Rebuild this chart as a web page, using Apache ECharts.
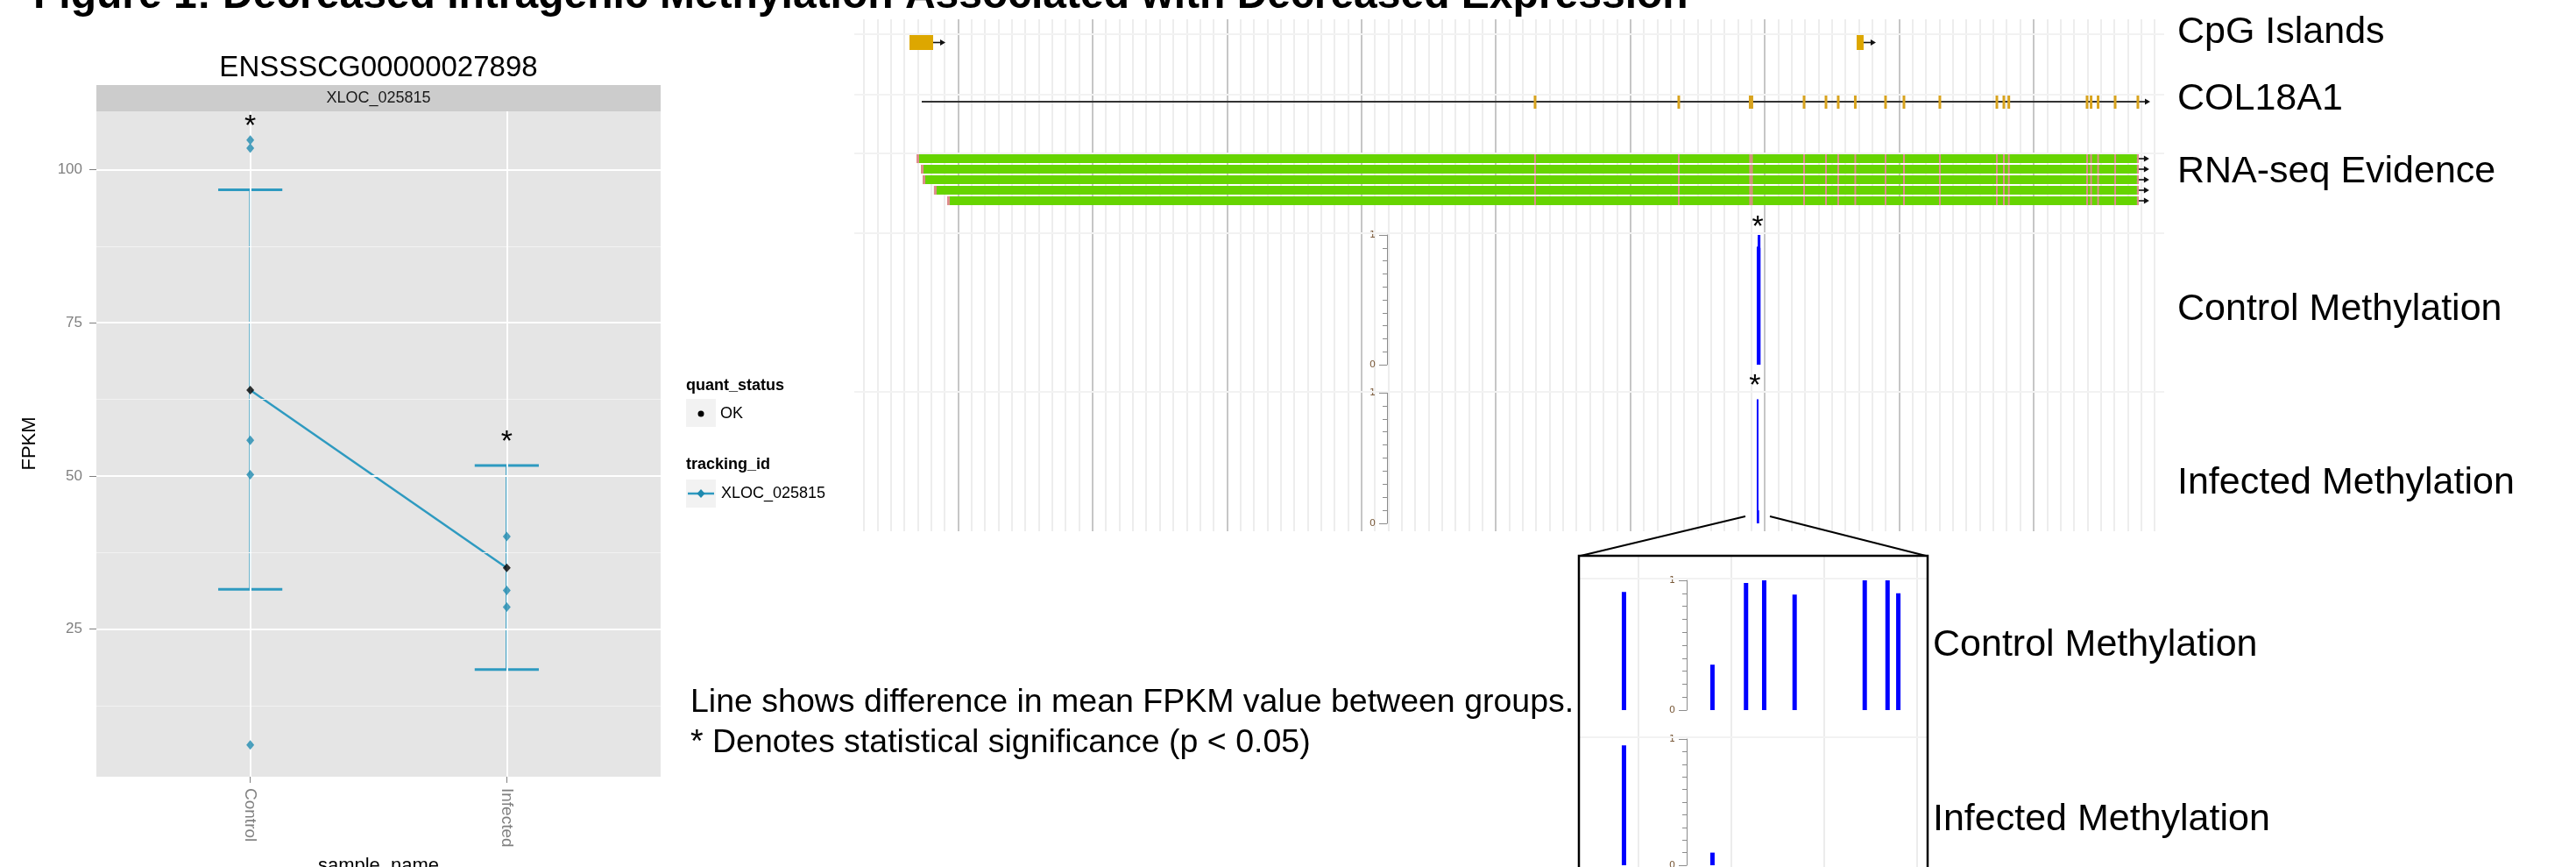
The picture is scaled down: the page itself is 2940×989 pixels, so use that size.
<!DOCTYPE html>
<html><head><meta charset="utf-8">
<script src="https://cdn.jsdelivr.net/npm/echarts@6/dist/echarts.min.js"></script>
<style>html,body{margin:0;padding:0;background:#fff}#c{width:2940px;height:989px}</style>
</head><body><div id="c"></div>
<script>
// ---------------- data ----------------
const sampleNames = ['Control', 'Infected'];
const controlFpkm = [104.8, 103.5, 55.8, 50.2, 6.1];
const infectedFpkm = [40.1, 31.3, 28.6];
const meanFpkm = [64.0, 35.0];
const ciLow = [31.5, 18.4];
const ciHigh = [96.7, 51.7];
const sigMarkY = [107.0, 55.5];
const yTicks = [25, 50, 75, 100];
const yMinorTicks = [12.5, 37.5, 62.5, 87.5];

// genome browser (positions in kb along the locus)
const cpgIslands = [[3.39, 5.15], [73.84, 74.36]];
const geneSpan = [4.30, 94.76];
const exonPos = [49.92, 60.61, 65.92, 66.05, 69.93, 71.56, 72.47, 73.74, 75.99, 77.36, 80.03,
                 84.27, 84.79, 85.16, 90.98, 91.28, 91.80, 93.07, 94.76];
const rnaStarts = [3.91, 4.24, 4.37, 5.21, 6.19];
const rnaEnds = [94.69, 94.69, 94.69, 94.69, 94.69];
const zoomRegionStartKb = 66.45;
const cpgSiteBp = [24.3, 72.0, 90.1, 99.9, 116.3, 154.1, 166.4, 172.2];
const controlMeth = [0.91, 0.35, 0.98, 1.0, 0.89, 1.0, 1.0, 0.90];
const infectedMeth = [0.95, 0.10, 0, 0, 0, 0, 0, 0];
const methStarKb = [66.48, 66.28];
const methStarY = [1.054, 1.047];
const insetGridBp = [32, 82, 132, 182];

// ---------------- style ----------------
const FONT = '"Liberation Sans", Arial, Helvetica, sans-serif';
const TEAL = '#2E9AC0', TEAL_PT = '#1F8AAF';
const BLUE = '#0000FF';
const browserLineColors = [];
for (let i = 0; i < 10; i++) browserLineColors.push(i === 7 ? '#C6C6C6' : '#EDEDED');

const chart = echarts.init(document.getElementById('c'), null, {renderer: 'canvas', width: 2940, height: 989});

function gridRect(left, top, width, height, extra) {
  return Object.assign({left, top, width, height, containLabel: false, outerBoundsMode: 'none', show: false, borderWidth: 0}, extra || {});
}
function hidden(type, grid, min, max, extra) {
  return Object.assign({type, gridIndex: grid, min, max, show: false}, extra || {});
}
function methAxis(grid) {
  return {type: 'value', gridIndex: grid, min: 0, max: 1, interval: 1, position: 'left',
    axisLine: {show: true, lineStyle: {color: '#8C8C8C', width: 1}},
    axisTick: {show: true, length: 9, inside: false, lineStyle: {color: '#8C8C8C'}},
    minorTick: {show: true, splitNumber: 10, length: 5, lineStyle: {color: '#8C8C8C'}},
    axisLabel: {show: true, fontSize: 11, color: '#7A5A3A', margin: 13, fontFamily: 'DejaVu Sans'},
    splitLine: {show: false}, minorSplitLine: {show: false}};
}
function arrowHead(x, y) {
  return [
    {type: 'line', shape: {x1: x, y1: y, x2: x + 10, y2: y}, style: {stroke: '#111', lineWidth: 1.6}},
    {type: 'polygon', shape: {points: [[x + 14, y], [x + 8, y - 3.5], [x + 8, y + 3.5]]}, style: {fill: '#111'}}
  ];
}
function methBars(xi, data, w) {
  return {type: 'custom', xAxisIndex: xi, yAxisIndex: xi, data, z: 5, silent: true, clip: false,
    renderItem(params, api) {
      const b = api.coord([api.value(0), 0]);
      const t = api.coord([api.value(0), api.value(1)]);
      if (b[1] - t[1] < 0.5) return null;
      return {type: 'rect', shape: {x: b[0] - w / 2, y: t[1], width: w, height: b[1] - t[1]}, style: {fill: BLUE}};
    }};
}
function starSeries(xi, data) {
  return {type: 'custom', xAxisIndex: xi, yAxisIndex: xi, data, z: 8, silent: true, clip: false,
    renderItem(params, api) {
      const p = api.coord([api.value(0), api.value(1)]);
      return {type: 'text', x: p[0], y: p[1], style: {text: '*', fontSize: 34, fontFamily: FONT, fill: '#000', align: 'center', verticalAlign: 'middle'}};
    }};
}

const BL = 986, BW = 1473, BMAX = 96;

const option = {
  animation: false,
  backgroundColor: '#ffffff',
  grid: [
    gridRect(110, 127, 644, 759, {show: true, backgroundColor: '#E5E5E5'}), // 0 ggplot panel
    gridRect(BL, 22, BW, 584),   // 1 browser background
    gridRect(BL, 40, BW, 17),    // 2 CpG
    gridRect(BL, 108, BW, 16),   // 3 gene
    gridRect(BL, 175, BW, 60),   // 4 RNA-seq
    gridRect(BL, 268, BW, 148),  // 5 control meth
    gridRect(1583, 268, 20, 148),// 6 control axis
    gridRect(BL, 448, BW, 149),  // 7 infected meth
    gridRect(1583, 448, 20, 149),// 8 infected axis
    gridRect(1802, 634, 398, 360),// 9 inset bg
    gridRect(1802, 662, 398, 148),// 10 inset control
    gridRect(1925, 662, 20, 148), // 11 inset control axis
    gridRect(1802, 843, 398, 144),// 12 inset infected
    gridRect(1925, 843, 20, 144)  // 13 inset infected axis
  ],
  xAxis: [
    {type: 'value', gridIndex: 0, min: 0.4, max: 2.6,
      axisLine: {show: false}, splitLine: {show: false},
      axisTick: {show: true, customValues: [1, 2], length: 7, lineStyle: {color: '#7F7F7F'}},
      axisLabel: {show: true, customValues: [1, 2], rotate: -90, margin: 13, fontSize: 19, color: '#7F7F7F', fontFamily: FONT,
        formatter: v => sampleNames[Math.round(v) - 1]}},
    {type: 'value', gridIndex: 1, min: 0, max: BMAX, interval: 1,
      axisLine: {show: false}, axisTick: {show: false}, axisLabel: {show: false},
      splitLine: {show: true, lineStyle: {color: browserLineColors, width: 2}}},
    hidden('value', 2, 0, BMAX), hidden('value', 3, 0, BMAX), hidden('value', 4, 0, BMAX),
    hidden('value', 5, 0, BMAX), hidden('value', 6, 0, 1), hidden('value', 7, 0, BMAX), hidden('value', 8, 0, 1),
    hidden('value', 9, 0, 188), hidden('value', 10, 0, 188), hidden('value', 11, 0, 1),
    hidden('value', 12, 0, 188), hidden('value', 13, 0, 1)
  ],
  yAxis: [
    {type: 'value', gridIndex: 0, min: 0.9, max: 109.5,
      axisLine: {show: false}, splitLine: {show: false},
      axisTick: {show: true, customValues: yTicks, length: 8, lineStyle: {color: '#7F7F7F'}},
      axisLabel: {show: true, customValues: yTicks, margin: 16, fontSize: 17, color: '#7F7F7F', fontFamily: FONT}},
    hidden('value', 1, 0, 1), hidden('value', 2, 0, 1), hidden('value', 3, 0, 1),
    {type: 'category', gridIndex: 4, data: ['1', '2', '3', '4', '5'], inverse: true, show: false},
    hidden('value', 5, 0, 1), methAxis(6), hidden('value', 7, 0, 1), methAxis(8),
    hidden('value', 9, 0, 1), hidden('value', 10, 0, 1), methAxis(11), hidden('value', 12, 0, 1), methAxis(13)
  ],
  series: [
    // ggplot grid lines
    {type: 'scatter', xAxisIndex: 0, yAxisIndex: 0, data: [], z: 1, silent: true,
      markLine: {silent: true, symbol: ['none', 'none'], label: {show: false}, animation: false,
        data: [
          ...yMinorTicks.map(v => ({yAxis: v, lineStyle: {color: '#F2F2F2', width: 1, type: 'solid'}})),
          ...yTicks.map(v => ({yAxis: v, lineStyle: {color: '#FFFFFF', width: 1.8, type: 'solid'}})),
          ...[1, 2].map(v => ({xAxis: v, lineStyle: {color: '#FFFFFF', width: 1.8, type: 'solid'}}))
        ]}},
    // error bars
    {type: 'custom', xAxisIndex: 0, yAxisIndex: 0, z: 3, silent: true,
      data: sampleNames.map((n, i) => [i + 1, ciLow[i], ciHigh[i]]),
      renderItem(params, api) {
        const x = api.value(0), lo = api.value(1), hi = api.value(2);
        const pLo = api.coord([x, lo]), pHi = api.coord([x, hi]);
        const cl = api.coord([x - 0.125, hi])[0], cr = api.coord([x + 0.125, hi])[0];
        return {type: 'group', children: [
          {type: 'line', shape: {x1: pLo[0], y1: pLo[1], x2: pHi[0], y2: pHi[1]}, style: {stroke: TEAL, lineWidth: 2.5}},
          {type: 'line', shape: {x1: cl, y1: pHi[1], x2: cr, y2: pHi[1]}, style: {stroke: TEAL, lineWidth: 3}},
          {type: 'line', shape: {x1: cl, y1: pLo[1], x2: cr, y2: pLo[1]}, style: {stroke: TEAL, lineWidth: 3}}
        ]};
      }},
    // mean line
    {type: 'line', xAxisIndex: 0, yAxisIndex: 0, z: 4, silent: true, symbol: 'none',
      data: meanFpkm.map((v, i) => [i + 1, v]), lineStyle: {color: TEAL, width: 2.5}},
    // replicate points
    {type: 'scatter', xAxisIndex: 0, yAxisIndex: 0, z: 5, silent: true, symbol: 'diamond', symbolSize: [9, 11],
      itemStyle: {color: TEAL_PT},
      data: [...controlFpkm.map(v => [1, v]), ...infectedFpkm.map(v => [2, v])]},
    // mean points
    {type: 'scatter', xAxisIndex: 0, yAxisIndex: 0, z: 6, silent: true, symbol: 'diamond', symbolSize: [9, 10],
      itemStyle: {color: '#000'}, data: meanFpkm.map((v, i) => [i + 1, v])},
    starSeries(0, sigMarkY.map((v, i) => [i + 1, v])),

    // CpG islands
    {type: 'custom', xAxisIndex: 2, yAxisIndex: 2, data: cpgIslands, z: 5, silent: true, clip: false,
      renderItem(params, api) {
        const s = api.coord([api.value(0), 0]), e = api.coord([api.value(1), 1]);
        const ym = (s[1] + e[1]) / 2;
        return {type: 'group', children: [
          {type: 'rect', shape: {x: s[0], y: e[1], width: e[0] - s[0], height: s[1] - e[1]}, style: {fill: '#DDA700'}},
          ...arrowHead(e[0], ym)
        ]};
      }},
    // gene backbone
    {type: 'custom', xAxisIndex: 3, yAxisIndex: 3, data: [geneSpan], z: 4, silent: true, clip: false,
      renderItem(params, api) {
        const s = api.coord([api.value(0), 0.5]), e = api.coord([api.value(1), 0.5]);
        return {type: 'group', children: [
          {type: 'line', shape: {x1: s[0], y1: s[1], x2: e[0], y2: e[1]}, style: {stroke: '#333', lineWidth: 2}},
          ...arrowHead(e[0], e[1])
        ]};
      }},
    // exons
    {type: 'custom', xAxisIndex: 3, yAxisIndex: 3, data: exonPos.map(p => [p]), z: 5, silent: true, clip: false,
      renderItem(params, api) {
        const b = api.coord([api.value(0), 0]), t = api.coord([api.value(0), 1]);
        return {type: 'rect', shape: {x: b[0] - 1.5, y: t[1], width: 3, height: b[1] - t[1]}, style: {fill: '#D8A31E'}};
      }},
    // RNA-seq reads
    {type: 'custom', xAxisIndex: 4, yAxisIndex: 4, data: rnaStarts.map((s, i) => [s, i, rnaEnds[i]]), z: 4, silent: true, clip: false,
      renderItem(params, api) {
        const s = api.coord([api.value(0), api.value(1)]), e = api.coord([api.value(2), api.value(1)]);
        const h = api.size([0, 1])[1] * 0.84;
        return {type: 'group', children: [
          {type: 'rect', shape: {x: s[0], y: s[1] - h / 2, width: e[0] - s[0], height: h}, style: {fill: '#66D400'}},
          {type: 'rect', shape: {x: s[0], y: s[1] - h / 2, width: 3, height: h}, style: {fill: '#DE8C8C'}},
          ...arrowHead(e[0], e[1])
        ]};
      }},
    // splice marks on reads
    {type: 'custom', xAxisIndex: 4, yAxisIndex: 4, data: exonPos.map(p => [p]), z: 5, silent: true, clip: false,
      renderItem(params, api) {
        const h = api.size([0, 1])[1] * 0.84;
        const kids = [];
        for (let r = 0; r < rnaStarts.length; r++) {
          const c = api.coord([api.value(0), r]);
          kids.push({type: 'rect', shape: {x: c[0] - 1, y: c[1] - h / 2, width: 2, height: h}, style: {fill: '#DE8C8C'}});
        }
        return {type: 'group', children: kids};
      }},
    // methylation main tracks
    methBars(5, cpgSiteBp.map((bp, i) => [zoomRegionStartKb + bp / 1000, controlMeth[i]]), 2),
    methBars(7, cpgSiteBp.map((bp, i) => [zoomRegionStartKb + bp / 1000, infectedMeth[i]]), 2),
    starSeries(5, [[methStarKb[0], methStarY[0]]]),
    starSeries(7, [[methStarKb[1], methStarY[1]]]),
    // inset grid lines
    {type: 'scatter', xAxisIndex: 9, yAxisIndex: 9, data: [], z: 1, silent: true,
      markLine: {silent: true, symbol: ['none', 'none'], label: {show: false}, animation: false,
        data: insetGridBp.map(v => ({xAxis: v, lineStyle: {color: '#ECECEC', width: 2, type: 'solid'}}))}},
    // inset methylation
    methBars(10, cpgSiteBp.map((bp, i) => [bp, controlMeth[i]]), 5),
    methBars(12, cpgSiteBp.map((bp, i) => [bp, infectedMeth[i]]), 5)
  ],
  graphic: [
    // track separators
    ...[39, 108, 175, 266, 447].map(y => ({type: 'line', z: 50, silent: true, shape: {x1: 975, y1: y, x2: 2470, y2: y}, style: {stroke: '#F2F2F2', lineWidth: 2}})),
    ...[660, 841].map(y => ({type: 'line', z: 50, silent: true, shape: {x1: 1803, y1: y, x2: 2199, y2: y}, style: {stroke: '#F2F2F2', lineWidth: 2}})),
    // zoom connectors and inset frame
    {type: 'polyline', z: 60, silent: true, shape: {points: [[1992, 589], [1804, 634]]}, style: {stroke: '#000', lineWidth: 2, fill: null}},
    {type: 'polyline', z: 60, silent: true, shape: {points: [[2020, 589], [2198, 634]]}, style: {stroke: '#000', lineWidth: 2, fill: null}},
    {type: 'polyline', z: 60, silent: true, shape: {points: [[1802, 1000], [1802, 634], [2200, 634], [2200, 1000]]}, style: {stroke: '#000', lineWidth: 2.5, fill: null}},
    // strip
    {type: 'rect', z: 10, silent: true, shape: {x: 110, y: 97, width: 644, height: 30}, style: {fill: '#CCCCCC'}},
    {type: 'text', z: 11, silent: true, x: 432, y: 112, style: {text: 'XLOC_025815', font: '18px ' + FONT, fill: '#1A1A1A', align: 'center', verticalAlign: 'middle'}},
    // titles
    {type: 'text', z: 11, silent: true, x: 38, y: -4, style: {text: 'Figure 1: Decreased Intragenic Methylation Associated with Decreased Expression', font: 'bold 48px ' + FONT, fill: '#000', verticalAlign: 'middle'}},
    {type: 'text', z: 11, silent: true, x: 432, y: 78, style: {text: 'ENSSSCG00000027898', font: '33px ' + FONT, fill: '#000', align: 'center', verticalAlign: 'middle'}},
    {type: 'text', z: 11, silent: true, x: 34, y: 506, rotation: Math.PI / 2, style: {text: 'FPKM', font: '22px ' + FONT, fill: '#000', align: 'center', verticalAlign: 'middle'}},
    {type: 'text', z: 11, silent: true, x: 432, y: 988, style: {text: 'sample_name', font: '22px ' + FONT, fill: '#000', align: 'center', verticalAlign: 'middle'}},
    // legend
    {type: 'text', z: 11, silent: true, x: 783, y: 440, style: {text: 'quant_status', font: 'bold 18px ' + FONT, fill: '#000', verticalAlign: 'middle'}},
    {type: 'rect', z: 10, silent: true, shape: {x: 783, y: 455, width: 34, height: 32}, style: {fill: '#F2F2F2'}},
    {type: 'circle', z: 11, silent: true, shape: {cx: 800, cy: 472, r: 3.5}, style: {fill: '#000'}},
    {type: 'text', z: 11, silent: true, x: 822, y: 472, style: {text: 'OK', font: '18px ' + FONT, fill: '#000', verticalAlign: 'middle'}},
    {type: 'text', z: 11, silent: true, x: 783, y: 530, style: {text: 'tracking_id', font: 'bold 18px ' + FONT, fill: '#000', verticalAlign: 'middle'}},
    {type: 'rect', z: 10, silent: true, shape: {x: 783, y: 547, width: 34, height: 32}, style: {fill: '#F2F2F2'}},
    {type: 'line', z: 11, silent: true, shape: {x1: 785, y1: 563, x2: 815, y2: 563}, style: {stroke: TEAL, lineWidth: 2.5}},
    {type: 'polygon', z: 12, silent: true, shape: {points: [[800, 558], [804.5, 563], [800, 568], [795.5, 563]]}, style: {fill: TEAL_PT}},
    {type: 'text', z: 11, silent: true, x: 823, y: 563, style: {text: 'XLOC_025815', font: '18px ' + FONT, fill: '#000', verticalAlign: 'middle'}},
    // notes
    {type: 'text', z: 11, silent: true, x: 788, y: 802, style: {text: 'Line shows difference in mean FPKM value between groups.', font: '37.5px ' + FONT, fill: '#000', verticalAlign: 'middle'}},
    {type: 'text', z: 11, silent: true, x: 788, y: 848, style: {text: '* Denotes statistical significance (p < 0.05)', font: '37.5px ' + FONT, fill: '#000', verticalAlign: 'middle'}},
    // track labels
    ...[['CpG Islands', 2485, 37], ['COL18A1', 2485, 113], ['RNA-seq Evidence', 2485, 196], ['Control Methylation', 2485, 353],
        ['Infected Methylation', 2485, 551], ['Control Methylation', 2206, 736], ['Infected Methylation', 2206, 935]]
      .map(t => ({type: 'text', z: 11, silent: true, x: t[1], y: t[2], style: {text: t[0], font: '43px ' + FONT, fill: '#000', verticalAlign: 'middle'}}))
  ]
};
chart.setOption(option);
</script></body></html>
